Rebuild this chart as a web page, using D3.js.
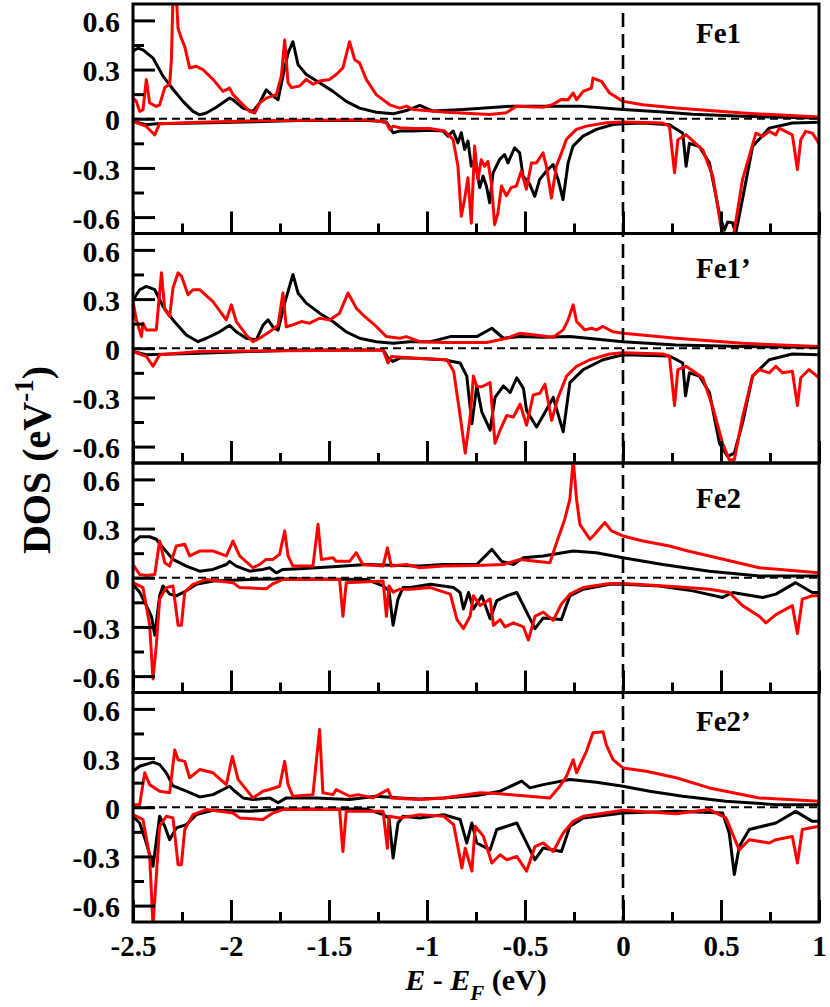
<!DOCTYPE html>
<html>
<head>
<meta charset="utf-8">
<script src="https://cdn.jsdelivr.net/npm/d3@7"></script>
<style>
html,body{margin:0;padding:0;background:#fff;}
svg{display:block;}
</style>
</head>
<body>
<svg id="chart" width="830" height="1007"></svg>
<script>
// ---------------- DATA ----------------
const panelNames = ["Fe1", "Fe1\u2019", "Fe2", "Fe2\u2019"];
const xMajorTicks = [-2.5, -2, -1.5, -1, -0.5, 0, 0.5, 1];
const xTickLabels = ["-2.5", "-2", "-1.5", "-1", "-0.5", "0", "0.5", "1"];
const xMinorTicks = [-2.25, -1.75, -1.25, -0.75, -0.25, 0.25, 0.75];
const yMajorTicks = [-0.6, -0.3, 0, 0.3, 0.6];
const yTickLabels = ["-0.6", "-0.3", "0", "0.3", "0.6"];
const yMinorTicks = [-0.45, -0.15, 0.15, 0.45];

// Fe1
const fe1UpBlack = [[-2.5,0.41],[-2.491,0.42],[-2.474,0.43],[-2.449,0.42],[-2.398,0.37],[-2.347,0.26],[-2.296,0.18],[-2.245,0.106],[-2.194,0.045],[-2.160,0.024],[-2.126,0.035],[-2.075,0.07],[-2.007,0.126],[-1.990,0.116],[-1.939,0.065],[-1.888,0.045],[-1.854,0.096],[-1.820,0.177],[-1.794,0.147],[-1.760,0.116],[-1.735,0.26],[-1.709,0.40],[-1.684,0.47],[-1.658,0.33],[-1.616,0.27],[-1.548,0.22],[-1.480,0.167],[-1.412,0.106],[-1.344,0.065],[-1.259,0.04],[-1.173,0.03],[-1.105,0.05],[-1.037,0.081],[-0.969,0.047],[-0.816,0.057],[-0.561,0.077],[-0.221,0.077],[0,0.057],[0.186,0.042],[0.356,0.028],[0.610,0.015],[1.0,0.004]];
const fe1UpRed = [[-2.5,0.126],[-2.483,0.106],[-2.466,0.045],[-2.449,0.055],[-2.432,0.24],[-2.415,0.096],[-2.381,0.075],[-2.364,0.085],[-2.338,0.19],[-2.313,0.21],[-2.304,0.36],[-2.296,0.75],[-2.279,0.75],[-2.270,0.55],[-2.253,0.49],[-2.236,0.44],[-2.211,0.31],[-2.177,0.32],[-2.143,0.30],[-2.092,0.24],[-2.041,0.167],[-2.007,0.187],[-1.990,0.147],[-1.956,0.106],[-1.905,0.045],[-1.879,0.035],[-1.854,0.096],[-1.820,0.126],[-1.769,0.147],[-1.743,0.26],[-1.726,0.48],[-1.709,0.22],[-1.692,0.19],[-1.650,0.20],[-1.616,0.24],[-1.582,0.21],[-1.548,0.23],[-1.497,0.24],[-1.463,0.27],[-1.429,0.31],[-1.395,0.47],[-1.369,0.36],[-1.344,0.34],[-1.310,0.24],[-1.259,0.147],[-1.190,0.085],[-1.139,0.065],[-1.105,0.077],[-1.071,0.057],[-0.901,0.04],[-0.680,0.026],[-0.595,0.037],[-0.544,0.077],[-0.407,0.07],[-0.357,0.088],[-0.314,0.118],[-0.280,0.116],[-0.254,0.157],[-0.237,0.116],[-0.203,0.167],[-0.161,0.187],[-0.153,0.248],[-0.110,0.228],[-0.068,0.157],[0,0.106],[0.102,0.085],[0.271,0.065],[0.610,0.035],[1.0,0.01]];
const fe1DnBlack = [[-2.5,-0.016],[-2.432,-0.037],[-2.381,-0.03],[-2.160,-0.026],[-1.990,-0.022],[-1.650,-0.01],[-1.310,-0.01],[-1.241,-0.016],[-1.207,-0.02],[-1.173,-0.085],[-1.139,-0.075],[-1.071,-0.075],[-0.986,-0.07],[-0.918,-0.075],[-0.893,-0.106],[-0.867,-0.075],[-0.842,-0.147],[-0.825,-0.085],[-0.808,-0.187],[-0.791,-0.136],[-0.774,-0.289],[-0.757,-0.248],[-0.731,-0.42],[-0.714,-0.35],[-0.697,-0.41],[-0.680,-0.513],[-0.663,-0.33],[-0.646,-0.289],[-0.629,-0.248],[-0.604,-0.218],[-0.587,-0.269],[-0.553,-0.177],[-0.527,-0.208],[-0.510,-0.35],[-0.476,-0.40],[-0.450,-0.473],[-0.425,-0.37],[-0.391,-0.32],[-0.357,-0.279],[-0.331,-0.37],[-0.306,-0.493],[-0.280,-0.269],[-0.255,-0.167],[-0.204,-0.106],[-0.136,-0.065],[-0.051,-0.035],[0,-0.03],[0.102,-0.026],[0.237,-0.037],[0.305,-0.088],[0.322,-0.29],[0.339,-0.15],[0.390,-0.17],[0.441,-0.27],[0.492,-0.58],[0.517,-0.68],[0.534,-0.63],[0.559,-0.635],[0.575,-0.70],[0.610,-0.49],[0.661,-0.17],[0.746,-0.057],[0.864,-0.026],[1.0,-0.022]];
const fe1DnRed = [[-2.5,-0.016],[-2.432,-0.047],[-2.389,-0.098],[-2.364,-0.03],[-2.160,-0.022],[-1.820,-0.01],[-1.310,-0.006],[-1.241,-0.014],[-1.207,-0.026],[-1.190,-0.065],[-1.173,-0.045],[-1.139,-0.055],[-1.071,-0.06],[-0.986,-0.06],[-0.910,-0.075],[-0.884,-0.106],[-0.867,-0.126],[-0.842,-0.29],[-0.825,-0.595],[-0.808,-0.49],[-0.791,-0.36],[-0.774,-0.637],[-0.757,-0.167],[-0.740,-0.37],[-0.723,-0.25],[-0.706,-0.29],[-0.689,-0.26],[-0.672,-0.39],[-0.655,-0.646],[-0.638,-0.574],[-0.620,-0.41],[-0.595,-0.47],[-0.570,-0.42],[-0.544,-0.41],[-0.519,-0.32],[-0.493,-0.43],[-0.467,-0.27],[-0.442,-0.27],[-0.408,-0.208],[-0.391,-0.29],[-0.365,-0.483],[-0.340,-0.29],[-0.314,-0.208],[-0.289,-0.126],[-0.238,-0.065],[-0.187,-0.045],[-0.085,-0.024],[0,-0.02],[0.203,-0.026],[0.237,-0.047],[0.263,-0.33],[0.280,-0.128],[0.322,-0.098],[0.407,-0.19],[0.458,-0.35],[0.500,-0.66],[0.525,-0.75],[0.559,-0.75],[0.610,-0.37],[0.678,-0.088],[0.712,-0.108],[0.746,-0.077],[0.780,-0.098],[0.797,-0.057],[0.864,-0.098],[0.890,-0.31],[0.907,-0.128],[0.932,-0.077],[0.966,-0.088],[1.0,-0.15]];

// Fe1'
const fe1pUpBlack = [[-2.5,0.295],[-2.466,0.357],[-2.432,0.377],[-2.389,0.357],[-2.347,0.255],[-2.296,0.173],[-2.228,0.081],[-2.168,0.04],[-2.126,0.061],[-2.058,0.10],[-2.007,0.14],[-1.973,0.10],[-1.922,0.061],[-1.871,0.051],[-1.837,0.14],[-1.811,0.173],[-1.786,0.13],[-1.760,0.11],[-1.726,0.275],[-1.684,0.45],[-1.658,0.337],[-1.616,0.275],[-1.548,0.214],[-1.480,0.163],[-1.412,0.10],[-1.344,0.061],[-1.259,0.04],[-1.173,0.03],[-1.088,0.04],[-0.983,0.04],[-0.881,0.071],[-0.746,0.071],[-0.669,0.122],[-0.610,0.061],[-0.525,0.071],[-0.407,0.067],[-0.271,0.071],[0,0.04],[0.271,0.02],[0.610,0.01],[1.0,0.006]];
const fe1pUpRed = [[-2.5,0.285],[-2.483,0.173],[-2.457,0.071],[-2.449,0.153],[-2.432,0.112],[-2.381,0.112],[-2.355,0.46],[-2.338,0.235],[-2.313,0.194],[-2.296,0.367],[-2.270,0.46],[-2.253,0.44],[-2.219,0.326],[-2.194,0.357],[-2.160,0.357],[-2.092,0.285],[-2.024,0.173],[-1.998,0.265],[-1.973,0.163],[-1.922,0.081],[-1.888,0.04],[-1.854,0.061],[-1.803,0.10],[-1.760,0.14],[-1.735,0.337],[-1.718,0.13],[-1.692,0.14],[-1.641,0.163],[-1.599,0.153],[-1.548,0.183],[-1.497,0.173],[-1.446,0.214],[-1.403,0.337],[-1.361,0.245],[-1.327,0.204],[-1.259,0.133],[-1.207,0.071],[-1.139,0.061],[-1.105,0.071],[-1.037,0.04],[-0.915,0.035],[-0.695,0.035],[-0.593,0.061],[-0.525,0.092],[-0.356,0.067],[-0.305,0.112],[-0.280,0.173],[-0.254,0.265],[-0.237,0.163],[-0.195,0.112],[-0.161,0.122],[-0.136,0.112],[-0.102,0.133],[-0.051,0.10],[0,0.092],[0.271,0.061],[0.610,0.03],[1.0,0.01]];
const fe1pDnBlack = [[-2.5,-0.02],[-2.432,-0.04],[-2.160,-0.03],[-1.650,-0.01],[-1.224,-0.01],[-1.199,-0.06],[-1.173,-0.08],[-1.139,-0.06],[-1.085,-0.06],[-0.915,-0.07],[-0.831,-0.09],[-0.797,-0.17],[-0.771,-0.46],[-0.746,-0.23],[-0.720,-0.39],[-0.678,-0.50],[-0.653,-0.30],[-0.610,-0.23],[-0.576,-0.27],[-0.542,-0.18],[-0.508,-0.245],[-0.492,-0.38],[-0.441,-0.48],[-0.407,-0.41],[-0.356,-0.30],[-0.305,-0.51],[-0.271,-0.21],[-0.203,-0.13],[-0.102,-0.07],[0,-0.04],[0.237,-0.047],[0.305,-0.09],[0.319,-0.29],[0.339,-0.15],[0.390,-0.17],[0.441,-0.27],[0.492,-0.58],[0.534,-0.66],[0.568,-0.64],[0.610,-0.455],[0.661,-0.17],[0.746,-0.07],[0.864,-0.035],[1.0,-0.04]];
const fe1pDnRed = [[-2.5,-0.02],[-2.432,-0.05],[-2.398,-0.11],[-2.364,-0.04],[-2.160,-0.02],[-1.224,-0.01],[-1.199,-0.09],[-1.182,-0.05],[-1.085,-0.06],[-0.898,-0.07],[-0.864,-0.14],[-0.831,-0.41],[-0.805,-0.64],[-0.780,-0.42],[-0.763,-0.17],[-0.746,-0.235],[-0.720,-0.235],[-0.678,-0.21],[-0.653,-0.58],[-0.627,-0.50],[-0.593,-0.41],[-0.559,-0.42],[-0.525,-0.34],[-0.492,-0.47],[-0.458,-0.285],[-0.424,-0.275],[-0.398,-0.22],[-0.364,-0.44],[-0.331,-0.30],[-0.288,-0.17],[-0.237,-0.11],[-0.169,-0.07],[-0.068,-0.035],[0,-0.027],[0.203,-0.035],[0.237,-0.05],[0.263,-0.35],[0.280,-0.13],[0.322,-0.11],[0.407,-0.18],[0.458,-0.36],[0.508,-0.58],[0.542,-0.68],[0.568,-0.68],[0.610,-0.42],[0.661,-0.17],[0.695,-0.13],[0.746,-0.15],[0.780,-0.11],[0.814,-0.15],[0.864,-0.14],[0.890,-0.35],[0.907,-0.18],[0.949,-0.13],[1.0,-0.18]];

// Fe2
const fe2UpBlack = [[-2.5,0.214],[-2.466,0.25],[-2.415,0.25],[-2.381,0.235],[-2.347,0.183],[-2.296,0.112],[-2.228,0.071],[-2.160,0.04],[-2.092,0.051],[-2.024,0.081],[-2.007,0.10],[-1.973,0.071],[-1.905,0.04],[-1.837,0.051],[-1.803,0.061],[-1.769,0.03],[-1.735,0.051],[-1.650,0.055],[-1.480,0.067],[-1.310,0.081],[-1.139,0.075],[-1.037,0.071],[-0.915,0.081],[-0.746,0.081],[-0.669,0.173],[-0.619,0.10],[-0.559,0.081],[-0.508,0.122],[-0.407,0.133],[-0.254,0.163],[-0.136,0.153],[0,0.122],[0.203,0.081],[0.441,0.04],[0.695,0.01],[1.0,0.01]];
const fe2UpRed = [[-2.5,0.081],[-2.466,0.02],[-2.432,0.014],[-2.389,0.02],[-2.364,0.224],[-2.338,0.092],[-2.313,0.071],[-2.279,0.194],[-2.236,0.204],[-2.211,0.133],[-2.160,0.163],[-2.092,0.163],[-2.024,0.133],[-1.990,0.224],[-1.956,0.133],[-1.888,0.061],[-1.854,0.081],[-1.820,0.112],[-1.786,0.112],[-1.752,0.143],[-1.726,0.286],[-1.709,0.133],[-1.684,0.071],[-1.582,0.071],[-1.556,0.326],[-1.539,0.112],[-1.480,0.122],[-1.463,0.10],[-1.395,0.10],[-1.361,0.153],[-1.327,0.081],[-1.224,0.071],[-1.202,0.183],[-1.182,0.071],[-1.105,0.081],[-1.037,0.061],[-0.915,0.071],[-0.746,0.075],[-0.610,0.081],[-0.525,0.112],[-0.373,0.092],[-0.339,0.214],[-0.297,0.357],[-0.271,0.48],[-0.254,0.72],[-0.237,0.48],[-0.220,0.326],[-0.169,0.235],[-0.144,0.265],[-0.093,0.337],[-0.059,0.286],[0,0.255],[0.102,0.224],[0.237,0.194],[0.331,0.163],[0.441,0.133],[0.695,0.061],[1.0,0.03]];
const fe2DnBlack = [[-2.5,-0.04],[-2.466,-0.088],[-2.432,-0.17],[-2.406,-0.235],[-2.389,-0.35],[-2.364,-0.11],[-2.347,-0.05],[-2.313,-0.10],[-2.279,-0.11],[-2.228,-0.08],[-2.177,-0.04],[-2.092,-0.02],[-1.905,-0.01],[-1.650,-0.006],[-1.310,-0.01],[-1.224,-0.05],[-1.194,-0.08],[-1.173,-0.29],[-1.148,-0.13],[-1.122,-0.06],[-1.085,-0.06],[-0.983,-0.04],[-0.864,-0.06],[-0.831,-0.09],[-0.814,-0.19],[-0.788,-0.09],[-0.763,-0.19],[-0.720,-0.11],[-0.678,-0.25],[-0.644,-0.14],[-0.593,-0.11],[-0.542,-0.09],[-0.508,-0.17],[-0.449,-0.31],[-0.407,-0.245],[-0.314,-0.255],[-0.271,-0.11],[-0.203,-0.07],[-0.068,-0.04],[0,-0.04],[0.186,-0.05],[0.356,-0.08],[0.508,-0.12],[0.559,-0.09],[0.712,-0.12],[0.780,-0.10],[0.881,-0.03],[0.966,-0.09],[1.0,-0.09]];
const fe2DnRed = [[-2.5,-0.03],[-2.449,-0.06],[-2.415,-0.29],[-2.398,-0.617],[-2.381,-0.41],[-2.364,-0.13],[-2.330,-0.06],[-2.296,-0.05],[-2.270,-0.29],[-2.253,-0.29],[-2.236,-0.088],[-2.194,-0.04],[-2.126,-0.01],[-1.990,-0.03],[-1.956,-0.06],[-1.820,-0.067],[-1.786,-0.037],[-1.735,-0.01],[-1.446,-0.01],[-1.429,-0.235],[-1.412,-0.03],[-1.224,-0.02],[-1.207,-0.235],[-1.194,-0.05],[-1.173,-0.088],[-1.139,-0.07],[-1.085,-0.07],[-0.983,-0.06],[-0.881,-0.10],[-0.847,-0.255],[-0.814,-0.31],[-0.780,-0.235],[-0.763,-0.11],[-0.729,-0.17],[-0.678,-0.13],[-0.661,-0.29],[-0.627,-0.255],[-0.602,-0.30],[-0.559,-0.275],[-0.508,-0.30],[-0.483,-0.38],[-0.449,-0.235],[-0.407,-0.21],[-0.356,-0.26],[-0.314,-0.16],[-0.271,-0.10],[-0.203,-0.06],[-0.068,-0.035],[0,-0.035],[0.271,-0.055],[0.441,-0.07],[0.542,-0.09],[0.610,-0.17],[0.695,-0.235],[0.729,-0.275],[0.780,-0.225],[0.864,-0.17],[0.890,-0.34],[0.915,-0.13],[0.966,-0.11],[1.0,-0.11]];

// Fe2'
const fe2pUpBlack = [[-2.5,0.22],[-2.466,0.25],[-2.398,0.275],[-2.364,0.26],[-2.330,0.21],[-2.296,0.13],[-2.228,0.098],[-2.160,0.063],[-2.092,0.077],[-2.007,0.128],[-1.990,0.108],[-1.939,0.057],[-1.888,0.047],[-1.803,0.057],[-1.760,0.027],[-1.718,0.057],[-1.565,0.057],[-1.395,0.047],[-1.259,0.067],[-1.139,0.057],[-1.037,0.051],[-0.915,0.057],[-0.746,0.071],[-0.627,0.098],[-0.517,0.159],[-0.475,0.118],[-0.407,0.138],[-0.271,0.169],[-0.136,0.153],[0,0.128],[0.136,0.098],[0.305,0.067],[0.525,0.037],[0.780,0.016],[1.0,0.016]];
const fe2pUpRed = [[-2.5,0.016],[-2.466,0.016],[-2.440,0.21],[-2.415,0.138],[-2.364,0.098],[-2.313,0.088],[-2.287,0.35],[-2.270,0.29],[-2.236,0.28],[-2.211,0.18],[-2.160,0.23],[-2.092,0.21],[-2.024,0.138],[-1.993,0.31],[-1.964,0.17],[-1.888,0.057],[-1.837,0.098],[-1.803,0.108],[-1.752,0.128],[-1.726,0.28],[-1.709,0.138],[-1.684,0.067],[-1.582,0.077],[-1.548,0.475],[-1.531,0.088],[-1.480,0.077],[-1.463,0.108],[-1.395,0.067],[-1.352,0.077],[-1.276,0.057],[-1.199,0.108],[-1.182,0.057],[-1.037,0.047],[-0.915,0.057],[-0.729,0.088],[-0.644,0.084],[-0.525,0.071],[-0.373,0.057],[-0.322,0.128],[-0.288,0.19],[-0.254,0.29],[-0.237,0.21],[-0.186,0.343],[-0.153,0.455],[-0.102,0.46],[-0.085,0.38],[-0.051,0.29],[0,0.24],[0.119,0.22],[0.271,0.18],[0.441,0.118],[0.695,0.057],[1.0,0.037]];
const fe2pDnBlack = [[-2.5,-0.055],[-2.466,-0.096],[-2.432,-0.218],[-2.398,-0.36],[-2.364,-0.055],[-2.338,-0.116],[-2.313,-0.198],[-2.279,-0.126],[-2.228,-0.106],[-2.177,-0.045],[-2.092,-0.018],[-1.905,-0.025],[-1.735,-0.01],[-1.310,-0.01],[-1.224,-0.045],[-1.194,-0.065],[-1.173,-0.31],[-1.148,-0.096],[-1.122,-0.055],[-1.037,-0.065],[-0.915,-0.045],[-0.831,-0.075],[-0.797,-0.218],[-0.771,-0.096],[-0.746,-0.218],[-0.678,-0.26],[-0.644,-0.136],[-0.593,-0.116],[-0.542,-0.096],[-0.500,-0.198],[-0.449,-0.32],[-0.407,-0.248],[-0.314,-0.27],[-0.271,-0.116],[-0.203,-0.065],[0,-0.035],[0.271,-0.025],[0.508,-0.035],[0.542,-0.157],[0.568,-0.41],[0.593,-0.24],[0.644,-0.136],[0.780,-0.096],[0.881,-0.025],[0.966,-0.086],[1.0,-0.086]];
const fe2pDnRed = [[-2.5,-0.045],[-2.449,-0.075],[-2.415,-0.30],[-2.398,-0.72],[-2.381,-0.42],[-2.364,-0.116],[-2.330,-0.055],[-2.296,-0.065],[-2.270,-0.35],[-2.253,-0.35],[-2.236,-0.136],[-2.194,-0.045],[-2.126,-0.014],[-1.990,-0.035],[-1.956,-0.065],[-1.837,-0.075],[-1.786,-0.035],[-1.735,-0.014],[-1.446,-0.014],[-1.429,-0.27],[-1.412,-0.025],[-1.224,-0.025],[-1.202,-0.25],[-1.194,-0.055],[-1.139,-0.065],[-1.037,-0.045],[-0.915,-0.055],[-0.864,-0.106],[-0.822,-0.37],[-0.805,-0.25],[-0.771,-0.39],[-0.754,-0.116],[-0.712,-0.178],[-0.669,-0.34],[-0.627,-0.29],[-0.593,-0.32],[-0.542,-0.30],[-0.492,-0.39],[-0.449,-0.24],[-0.407,-0.218],[-0.356,-0.27],[-0.305,-0.157],[-0.254,-0.086],[-0.203,-0.055],[0,-0.018],[0.271,-0.039],[0.441,-0.014],[0.525,-0.065],[0.593,-0.26],[0.644,-0.198],[0.746,-0.218],[0.780,-0.198],[0.864,-0.178],[0.890,-0.34],[0.915,-0.136],[1.0,-0.116]];

const panelSeries = [
  {black: [fe1UpBlack, fe1DnBlack], red: [fe1UpRed, fe1DnRed]},
  {black: [fe1pUpBlack, fe1pDnBlack], red: [fe1pUpRed, fe1pDnRed]},
  {black: [fe2UpBlack, fe2DnBlack], red: [fe2UpRed, fe2DnRed]},
  {black: [fe2pUpBlack, fe2pDnBlack], red: [fe2pUpRed, fe2pDnRed]}
];

// ---------------- LAYOUT ----------------
const W = 830, H = 1007;
const plotLeft = 133, plotRight = 819, plotTop = 4, plotBottom = 922;
const nPanels = 4;
const panelH = (plotBottom - plotTop) / nPanels;
const labelOffsets = [39, 44, 45, 38];
const FONT = "'Liberation Serif','Times New Roman',Times,serif";

const svg = d3.select("#chart").style("font-family", FONT);
svg.append("rect").attr("width", W).attr("height", H).attr("fill", "#fff");

const x = d3.scaleLinear().domain([-2.5, 1]).range([plotLeft, plotRight]);
const defs = svg.append("defs");

panelNames.forEach((name, i) => {
  const pTop = plotTop + i * panelH;
  const pBot = pTop + panelH;
  const y = d3.scaleLinear().domain([-0.7, 0.7]).range([pBot, pTop]);
  const g = svg.append("g");

  defs.append("clipPath").attr("id", "clip" + i)
    .append("rect").attr("x", plotLeft).attr("y", pTop)
    .attr("width", plotRight - plotLeft).attr("height", panelH);

  const line = d3.line().x(d => x(d[0])).y(d => y(d[1]));
  const lines = g.append("g").attr("clip-path", "url(#clip" + i + ")");
  const s = panelSeries[i];
  s.black.forEach(arr => lines.append("path").datum(arr).attr("d", line)
    .attr("fill", "none").attr("stroke", "#000").attr("stroke-width", 3).attr("stroke-linejoin", "round"));
  s.red.forEach(arr => lines.append("path").datum(arr).attr("d", line)
    .attr("fill", "none").attr("stroke", "#ff0000").attr("stroke-width", 3).attr("stroke-linejoin", "round"));

  // zero dashed line
  g.append("line").attr("x1", plotLeft).attr("x2", plotRight)
    .attr("y1", y(0)).attr("y2", y(0))
    .attr("stroke", "#000").attr("stroke-width", 1.8).attr("stroke-dasharray", "8,5");

  // y axis major
  const yAx = g.append("g").attr("transform", `translate(${plotLeft},0)`)
    .call(d3.axisLeft(y).tickValues(yMajorTicks).tickSize(-22).tickSizeOuter(0).tickPadding(13)
      .tickFormat((d, k) => yTickLabels[k]));
  yAx.attr("font-family", null).attr("font-size", null);
  yAx.select(".domain").remove();
  yAx.selectAll(".tick line").attr("stroke", "#000").attr("stroke-width", 3);
  yAx.selectAll(".tick text").attr("dy", "0.37em")
    .style("font-family", FONT).style("font-weight", "bold").style("font-size", "30px").attr("fill", "#000");
  // y axis minor
  const yMin = g.append("g").attr("transform", `translate(${plotLeft},0)`)
    .call(d3.axisLeft(y).tickValues(yMinorTicks).tickSize(-11).tickSizeOuter(0).tickFormat(""));
  yMin.select(".domain").remove();
  yMin.selectAll(".tick line").attr("stroke", "#000").attr("stroke-width", 3);

  // x axis major
  const xAx = g.append("g").attr("transform", `translate(0,${pBot})`)
    .call(d3.axisBottom(x).tickValues(xMajorTicks).tickSize(-22).tickSizeOuter(0)
      .tickFormat((d, k) => i === nPanels - 1 ? xTickLabels[k] : ""));
  xAx.attr("font-family", null).attr("font-size", null);
  xAx.select(".domain").remove();
  xAx.selectAll(".tick line").attr("stroke", "#000").attr("stroke-width", 3);
  xAx.selectAll(".tick text").attr("y", 34).attr("dy", 0)
    .style("font-family", FONT).style("font-weight", "bold").style("font-size", "29px").attr("fill", "#000");
  const xMin = g.append("g").attr("transform", `translate(0,${pBot})`)
    .call(d3.axisBottom(x).tickValues(xMinorTicks).tickSize(-10).tickSizeOuter(0).tickFormat(""));
  xMin.select(".domain").remove();
  xMin.selectAll(".tick line").attr("stroke", "#000").attr("stroke-width", 3);

  // panel label
  g.append("text").attr("x", 696).attr("y", pTop + labelOffsets[i])
    .style("font-family", FONT).style("font-weight", "bold").style("font-size", "29px")
    .text(name);

  // border
  g.append("rect").attr("x", plotLeft).attr("y", pTop)
    .attr("width", plotRight - plotLeft).attr("height", panelH)
    .attr("fill", "none").attr("stroke", "#000").attr("stroke-width", 3);
});

// vertical Fermi line
svg.append("line").attr("x1", x(0)).attr("x2", x(0))
  .attr("y1", plotTop + 9).attr("y2", plotBottom)
  .attr("stroke", "#000").attr("stroke-width", 2.6).attr("stroke-dasharray", "14,7");

// x title
const xt = svg.append("text").attr("x", (plotLeft + plotRight) / 2).attr("y", 990)
  .attr("text-anchor", "middle")
  .style("font-family", FONT).style("font-weight", "bold").style("font-size", "30px");
xt.append("tspan").style("font-style", "italic").text("E");
xt.append("tspan").text(" - ");
xt.append("tspan").style("font-style", "italic").text("E");
xt.append("tspan").style("font-style", "italic").style("font-size", "21px").attr("dy", 10).text("F");
xt.append("tspan").attr("dy", -10).text(" (eV)");

// y title
const yt = svg.append("text")
  .attr("transform", `translate(50,${(plotTop + plotBottom) / 2 - 3}) rotate(-90)`)
  .attr("text-anchor", "middle")
  .style("font-family", FONT).style("font-weight", "bold").style("font-size", "40px");
yt.append("tspan").text("DOS (eV");
yt.append("tspan").style("font-size", "27px").attr("dy", -17).text("-1");
yt.append("tspan").attr("dy", 17).text(")");
</script>
</body>
</html>
